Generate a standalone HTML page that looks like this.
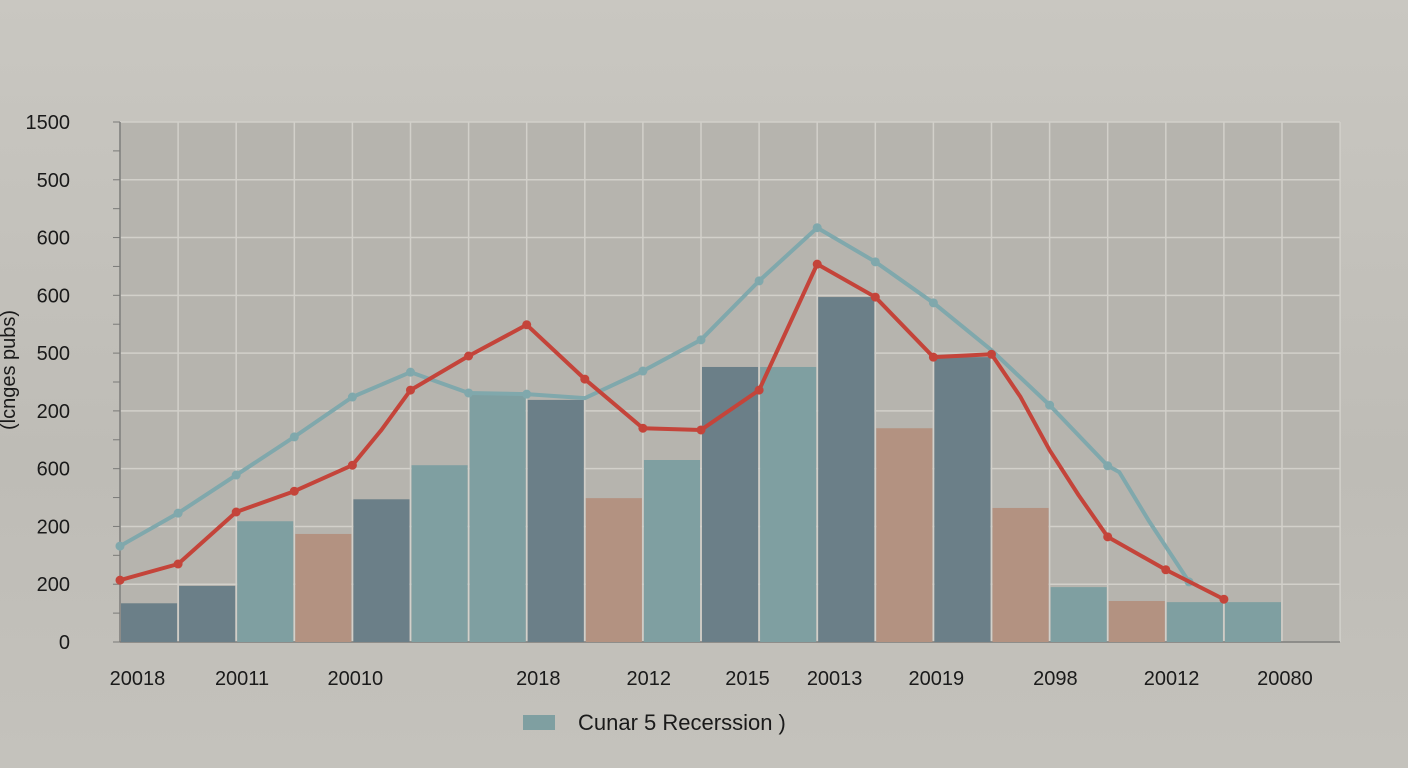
<!DOCTYPE html>
<html><head><meta charset="utf-8"><style>
html,body{margin:0;padding:0;width:1408px;height:768px;overflow:hidden;background:linear-gradient(#c9c7c1,#bebcb6 60%,#c4c2bc);font-family:"Liberation Sans",sans-serif;}
svg{position:absolute;left:0;top:0}
</style></head><body>
<svg width="1408" height="768" id="svg"></svg>
<script>
const categories=["c0","c1","c2","c3","c4","c5","c6","c7","c8","c9","c10","c11","c12","c13","c14","c15","c16","c17","c18","c19"];
const barValues=[67,97,209,187,247,306,431,419,249,315,476,476,597,370,493,232,95,71,69,69];
const barKinds=[0,0,1,2,0,1,1,0,2,1,0,1,0,2,0,2,1,2,1,1];
const tealX=[0,1,2,3,4,5,6,7,8,9,10,11,12,13,14,15,16,17,17.2,17.7,18.4];
const tealY=[166,223,289,355,424,467,431,429,422,469,523,625,717,658,587,505,410,305,294,211,104];
const tealMark=[1,1,1,1,1,1,1,1,0,1,1,1,1,1,1,0,1,1,0,0,1];
const redX=[0,1,2,3,4,4.5,5,6,7,8,9,10,11,12,13,14,15,15.5,16,16.5,17,18,19];
const redY=[107,135,225,261,306,367,436,495,549,455,370,367,436,654,597,493,498,424,332,254,182,125,74];
const redMark=[1,1,1,1,1,0,1,1,1,1,1,1,1,1,1,1,1,0,0,0,1,1,1];
const yTickLabels=["0","200","200","600","200","500","600","600","500","1500"];
const xTickLabels=["20018","20011","20010","2018","2012","2015","20013","20019","2098","20012","20080"];
const xTickPos=[0.3,2.1,4.05,7.2,9.1,10.8,12.3,14.05,16.1,18.1,20.05];

const NS="http://www.w3.org/2000/svg",svg=document.getElementById('svg');
const L=120,R=1340,T=122,B=642,COLW=58.1,YMAX=900;
const xs=i=>L+i*COLW, ys=v=>B-v/YMAX*(B-T);
function el(t,a,p){const e=document.createElementNS(NS,t);for(const k in a)e.setAttribute(k,a[k]);(p||svg).appendChild(e);return e;}
el('rect',{x:L,y:T,width:R-L,height:B-T,fill:'#b6b4ae'});
const grid=el('g',{});


for(let i=0;i<=9;i++){el('line',{x1:L,x2:R,y1:ys(i*100),y2:ys(i*100),stroke:'#d2d0ca','stroke-width':1.5},grid);}
for(let i=0;i<=21;i++){el('line',{x1:xs(i),x2:xs(i),y1:T,y2:B,stroke:'#d2d0ca','stroke-width':1.5},grid);}
for(let i=0;i<=18;i++){el('line',{x1:113,x2:120,y1:ys(i*50),y2:ys(i*50),stroke:'#7a7a78','stroke-width':1},grid);}
el('line',{x1:L,x2:L,y1:T,y2:B,stroke:'#7a7a78','stroke-width':1.5});
el('line',{x1:L,x2:R,y1:B,y2:B,stroke:'#7a7a78','stroke-width':1.5});
const colors=['#6b7f88','#7f9fa1','#b39281'];
barValues.forEach((v,i)=>{
 const r=el('rect',{x:xs(i)+1,y:ys(v),width:COLW-2,height:B-ys(v),fill:colors[barKinds[i]]});
 
 
});
function line(X,Y,M,c,name){
 const p=el('polyline',{points:X.map((x,i)=>xs(x)+','+ys(Y[i])).join(' '),fill:'none',stroke:c,'stroke-width':4,'stroke-linejoin':'round'});
 
 
 X.forEach((x,i)=>{if(M[i]){const d=el('circle',{cx:xs(x),cy:ys(Y[i]),r:4.5,fill:c});
 
 }});
}
line(tealX,tealY,tealMark,'#80a8ac','teal-line');
line(redX,redY,redMark,'#c4443a','red-line');
yTickLabels.forEach((t,i)=>{const e=el('text',{x:70,y:ys(i*100)+7,'font-size':20,fill:'#1a1a1a','text-anchor':'end'});e.textContent=t;
 
 });
xTickLabels.forEach((t,i)=>{const e=el('text',{x:xs(xTickPos[i]),y:685,'font-size':20,fill:'#1a1a1a','text-anchor':'middle'});e.textContent=t;
 
 });
const yt=el('text',{x:0,y:0,'font-size':20,fill:'#1a1a1a','text-anchor':'middle',transform:'translate(15,370) rotate(-90)'});yt.textContent='(lcnges pubs)';


const lg=el('g',{});


el('rect',{x:523,y:715,width:32,height:15,fill:'#7f9fa1'},lg);
const lt=el('text',{x:578,y:730,'font-size':22,fill:'#1a1a1a'},lg);lt.textContent='Cunar 5 Recerssion )';
</script>
</body></html>
